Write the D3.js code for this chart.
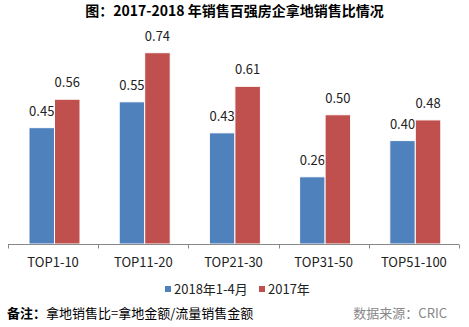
<!DOCTYPE html>
<html>
<head>
<meta charset="utf-8">
<script src="https://cdn.jsdelivr.net/npm/d3@7"></script>
<style>
  body { margin: 0; background: #fff; }
  text { font-family: "Noto Sans CJK SC", "Liberation Sans", sans-serif; }
</style>
</head>
<body>
<div id="chart"></div>
<script>
// data
var categories = ["TOP1-10", "TOP11-20", "TOP21-30", "TOP31-50", "TOP51-100"];
var seriesNames = ["2018年1-4月", "2017年"];
var values2018 = [0.45, 0.55, 0.43, 0.26, 0.40];
var values2017 = [0.56, 0.74, 0.61, 0.50, 0.48];
var colors = ["#4F81BD", "#C0504D"];

var width = 469, height = 327;

var svg = d3.select("#chart")
    .append("svg")
    .attr("width", width)
    .attr("height", height);

// title
svg.append("text")
    .attr("x", 234.5)
    .attr("y", 16)
    .attr("text-anchor", "middle")
    .style("font-size", "14px")
    .style("font-weight", "bold")
    .text("图：2017-2018 年销售百强房企拿地销售比情况");

var x = d3.scaleBand()
    .domain(categories)
    .range([8, 459]);

var x1 = d3.scaleBand()
    .domain([0, 1])
    .range([21, 72]);

var y = d3.scaleLinear()
    .domain([0, 0.8])
    .range([244, 37.2]);

var rows = categories.map(function (c, i) {
    return { cat: c, vals: [values2018[i], values2017[i]] };
});

var groups = svg.selectAll(".grp")
    .data(rows)
    .enter()
    .append("g")
    .attr("transform", function (d) { return "translate(" + x(d.cat) + ",0)"; });

var bars = groups.selectAll("g")
    .data(function (d) { return d.vals.map(function (v, k) { return { k: k, v: v }; }); })
    .enter()
    .append("g");

bars.append("rect")
    .attr("x", function (d) { return x1(d.k); })
    .attr("y", function (d) { return y(d.v); })
    .attr("width", x1.bandwidth())
    .attr("height", function (d) { return y(0) - y(d.v); })
    .style("fill", function (d) { return colors[d.k]; })
    .style("stroke", "#fff")
    .style("stroke-width", 1);

bars.append("text")
    .attr("x", function (d) { return x1(d.k) + x1.bandwidth() / 2; })
    .attr("y", function (d) { return y(d.v) - 12; })
    .attr("text-anchor", "middle")
    .style("font-size", "13px")
    .style("fill", "#222")
    .text(function (d) { return d.v.toFixed(2); });

// x axis
var xAxis = svg.append("g")
    .attr("transform", "translate(0,244.5)");

xAxis.append("line")
    .attr("x1", 8).attr("x2", 459)
    .style("stroke", "#888");

xAxis.selectAll(".tk")
    .data(d3.range(categories.length + 1))
    .enter()
    .append("line")
    .attr("x1", function (i) { return Math.round(8 + i * x.bandwidth()) + 0.5; })
    .attr("x2", function (i) { return Math.round(8 + i * x.bandwidth()) + 0.5; })
    .attr("y1", 0).attr("y2", 4)
    .style("stroke", "#888");

xAxis.selectAll(".lbl")
    .data(categories)
    .enter()
    .append("text")
    .attr("x", function (d) { return x(d) + x.bandwidth() / 2; })
    .attr("y", 22)
    .attr("text-anchor", "middle")
    .style("font-size", "13px")
    .style("fill", "#222")
    .text(function (d) { return d; });

// legend
var legendX = [165, 259];
var legend = svg.selectAll(".lg")
    .data(seriesNames)
    .enter()
    .append("g")
    .attr("transform", function (d, i) { return "translate(" + legendX[i] + ",286)"; });

legend.append("rect")
    .attr("width", 6).attr("height", 6)
    .style("fill", function (d, i) { return colors[i]; });

legend.append("text")
    .attr("x", 9)
    .attr("y", 7.5)
    .style("font-size", "13px")
    .style("fill", "#222")
    .text(function (d) { return d; });

// footer
var note = svg.append("text")
    .attr("x", 7)
    .attr("y", 318)
    .style("font-size", "13px")
    .style("fill", "#000");
note.append("tspan").style("font-weight", "bold").text("备注：");
note.append("tspan").text("拿地销售比=拿地金额/流量销售金额");

svg.append("text")
    .attr("x", 447)
    .attr("y", 318)
    .attr("text-anchor", "end")
    .style("font-size", "13px")
    .style("fill", "#888")
    .text("数据来源：CRIC");
</script>
</body>
</html>
